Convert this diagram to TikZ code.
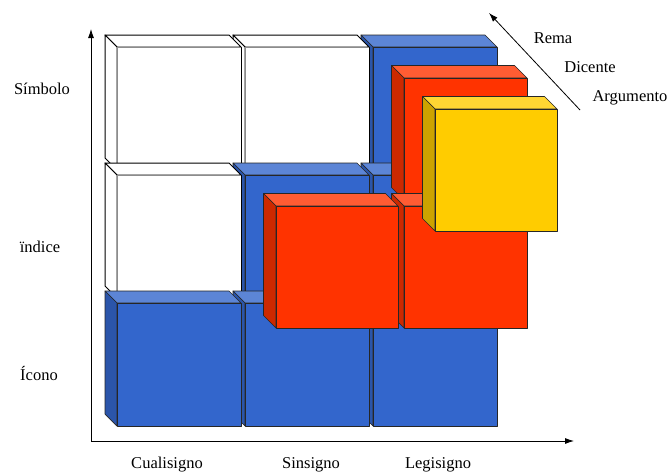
\documentclass[tikz,border=0pt]{standalone}
\usepackage{fontspec}
\setmainfont{Liberation Serif}
\newfontfamily\labelfont{Liberation Serif}
\usetikzlibrary{arrows.meta}

\definecolor{bluefront}{HTML}{3366CC}
\definecolor{bluetop}{HTML}{5C85D6}
\definecolor{blueside}{HTML}{2B55AA}
\definecolor{redfront}{HTML}{FF3300}
\definecolor{redtop}{HTML}{FF5C33}
\definecolor{redside}{HTML}{CC2900}
\definecolor{yelfront}{HTML}{FFCC00}
\definecolor{yeltop}{HTML}{FFD633}
\definecolor{yelside}{HTML}{CCA300}
\definecolor{whitefront}{HTML}{FFFFFF}
\definecolor{whitetop}{HTML}{FFFFFF}
\definecolor{whiteside}{HTML}{FFFFFF}

\tikzset{
  cubeedge/.style={draw=black!85, line width=0.7pt, line join=round},
  hollowedge/.style={draw=black, line width=1pt, line join=round},
  inneredge/.style={draw=black!45, line width=0.8pt},
  lbl/.style={font=\labelfont\fontsize{16.5}{19}\selectfont, inner sep=0pt},
  axis/.style={line width=0.8pt, -{Latex[length=9pt,width=6pt]}},
}

% #1,#2 top-left corner of the front face, #3 width, #4 height,
% #5 depth of the oblique faces, #6 colour family, #7 edge style
\newcommand{\blockcube}[7]{%
  \filldraw[#7, fill=#6top] (#1,#2) -- ++(-#5,-#5) -- ++(#3,0) -- ++(#5,#5) -- cycle;
  \filldraw[#7, fill=#6side] (#1,#2) -- ++(-#5,-#5) -- ++(0,#4) -- ++(#5,#5) -- cycle;
  \filldraw[#7, fill=#6front] (#1,#2) rectangle ++(#3,#4);
}

% an empty cell: white faces, dark outline, light inner front edges
\newcommand{\hollowcube}[2]{%
  \blockcube{#1}{#2}{124}{123}{12}{white}{hollowedge}
  \draw[inneredge] (#1,#2) ++(0,123) -- ++(0,-123) -- ++(124,0);
}

\begin{document}
\begin{tikzpicture}[x=1pt, y=-1pt]
  \useasboundingbox (0,0) rectangle (670,472);
  \fill[white] (0,0) rectangle (670,472);

  % axes
  \coordinate (origin) at (91,441);
  \coordinate (ytip) at (91,29);
  \coordinate (xtip) at (574,441);
  \draw[axis] (origin) -- (ytip);
  \draw[axis] (origin) -- (xtip);

  % back layer: Rema
  \blockcube{373}{47}{124}{123}{12}{blue}{cubeedge}
  \hollowcube{245}{47}
  \hollowcube{117}{47}
  \blockcube{373}{175}{124}{123}{12}{blue}{cubeedge}
  \blockcube{245}{175}{124}{123}{12}{blue}{cubeedge}
  \hollowcube{117}{175}
  \blockcube{373}{303}{124}{123}{12}{blue}{cubeedge}
  \blockcube{245}{303}{124}{123}{12}{blue}{cubeedge}
  \blockcube{117}{303}{124}{123}{12}{blue}{cubeedge}

  % middle layer: Dicente
  \blockcube{404}{78}{123}{122}{12.5}{red}{cubeedge}
  \blockcube{404}{206}{123}{122}{12.5}{red}{cubeedge}
  \blockcube{276}{206}{122}{122}{12.5}{red}{cubeedge}

  % front layer: Argumento
  \blockcube{435}{109}{122}{122}{12.5}{yel}{cubeedge}

  % depth axis
  \coordinate (dtail) at (580,110);
  \coordinate (dtip) at (489,13);
  \draw[axis] (dtail) -- (dtip);

  % labels
  \node[lbl] (rema) at (553,38) {Rema};
  \node[lbl] (dicente) at (590,67) {Dicente};
  \node[lbl] (argumento) at (630,98) {Argumento};
  \node[lbl] (simbolo) at (42,89) {Símbolo};
  \node[lbl] (indice) at (40,247) {ïndice};
  \node[lbl] (icono) at (39,373) {Ícono};
  \node[lbl] (cualisigno) at (167,465) {Cualisigno};
  \node[lbl] (sinsigno) at (311,465) {Sinsigno};
  \node[lbl] (legisigno) at (438,465) {Legisigno};
\end{tikzpicture}
\end{document}
